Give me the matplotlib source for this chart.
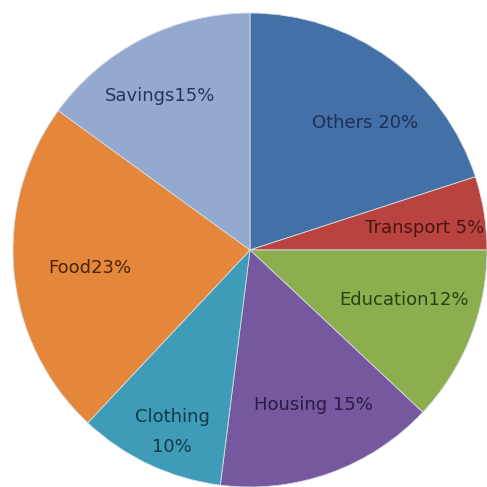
import matplotlib
matplotlib.use("Agg")
import matplotlib.pyplot as plt

categories = ["Others", "Transport", "Education", "Housing", "Clothing", "Food", "Savings"]
values = [20, 5, 12, 15, 10, 23, 15]
labels = ["Others 20%", "Transport 5%", "Education12%", "Housing 15%", "Clothing\n10%", "Food23%", "Savings15%"]
colors = ["#4470A8", "#B8433F", "#8CAE4F", "#75589E", "#3E9CB8", "#E4873A", "#93A9D0"]
text_colors = ["#1C2F55", "#4A1412", "#2A4010", "#2A1A45", "#14384A", "#4A2208", "#22365A"]
# label positions in axis units (radius 1)
label_pos = [(0.485, 0.536), (0.736, 0.093), (0.65, -0.211), (0.268, -0.654), (-0.329, -0.768), (-0.675, -0.076), (-0.38, 0.65)]

W = 487
fig = plt.figure(figsize=(W / 100, W / 100), dpi=100)
cx, cy, r = 250, 250, 237
ax = fig.add_axes([(cx - r) / W, (W - cy - r) / W, 2 * r / W, 2 * r / W])
wedges, _ = ax.pie(values, colors=colors, startangle=90, counterclock=False,
                   radius=1, center=(0, 0),
                   wedgeprops=dict(edgecolor="#d8dce4", linewidth=0.6))
for w in wedges:
    w.set_clip_on(False)
for lab, (x, y), tc in zip(labels, label_pos, text_colors):
    ax.text(x, y, lab, ha="center", va="center", fontsize=13, color=tc,
            family="DejaVu Sans", linespacing=1.8, clip_on=False)
ax.set_xlim(-1, 1)
ax.set_ylim(-1, 1)
ax.set_aspect("auto")
ax.axis("off")
fig.savefig("out.png", dpi=100)
